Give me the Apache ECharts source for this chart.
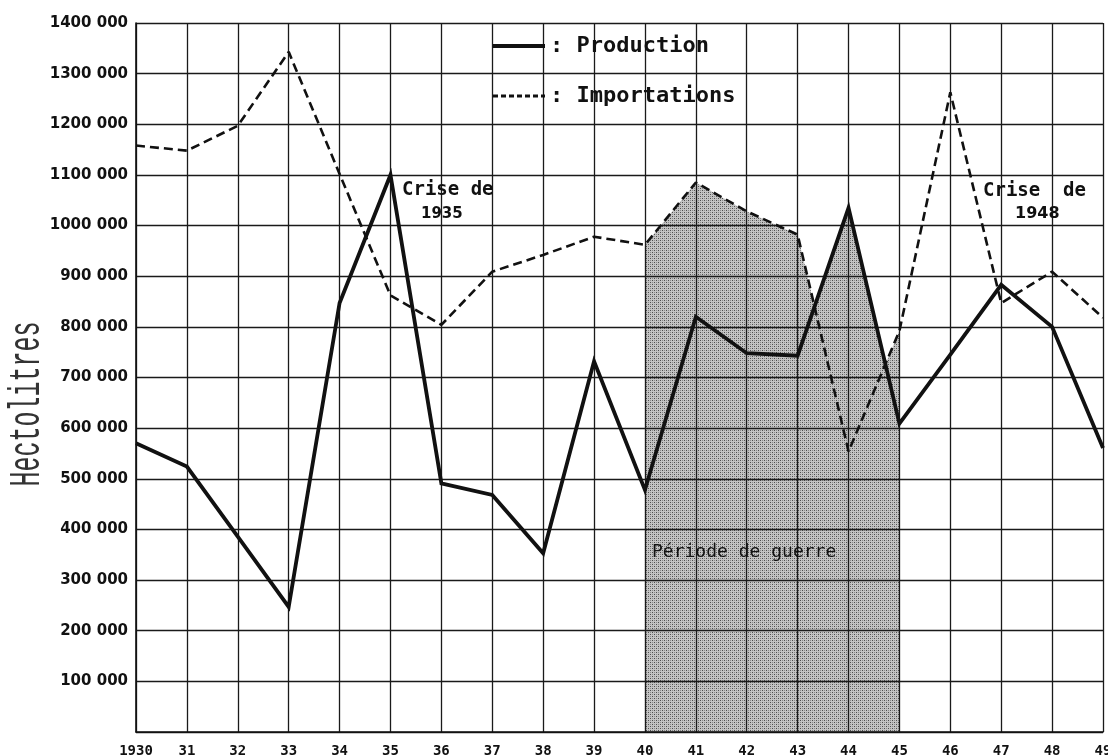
<!DOCTYPE html>
<html>
<head>
<meta charset="utf-8">
<script src="https://cdn.jsdelivr.net/npm/echarts@6/dist/echarts.min.js"></script>
<style>
html,body{margin:0;padding:0;background:#fff;}
#chart{width:1108px;height:756px;}
</style>
</head>
<body>
<div id="chart"></div>
<script>
// ---- data ----
var years = [1930,1931,1932,1933,1934,1935,1936,1937,1938,1939,1940,1941,1942,1943,1944,1945,1946,1947,1948,1949];
var xLabels = ['1930','31','32','33','34','35','36','37','38','39','40','41','42','43','44','45','46','47','48','49'];
var production = [570000,524000,386000,247000,847000,1100000,491000,468000,353000,732000,478000,820000,748000,743000,1035000,609000,745000,883000,800000,561000];
var importations = [1158000,1148000,1197000,1343000,1102000,862000,804000,909000,942000,978000,962000,1085000,1028000,982000,554000,792000,1263000,847000,909000,818000];
var yTicks = [0,100000,200000,300000,400000,500000,600000,700000,800000,900000,1000000,1100000,1200000,1300000,1400000];
var yLabels = ['','100 000','200 000','300 000','400 000','500 000','600 000','700 000','800 000','900 000','1000 000','1100 000','1200 000','1300 000','1400 000'];
var warStart = 1940, warEnd = 1945;

// ---- halftone shading pattern ----
var pat = document.createElement('canvas');
pat.width = 4; pat.height = 4;
var pc = pat.getContext('2d');
pc.fillStyle = '#c4c4c4'; pc.fillRect(0,0,4,4);
pc.fillStyle = '#4e4e4e';
pc.fillRect(0,0,1,1); pc.fillRect(2,2,1,1);
pc.fillStyle = '#8a8a8a';
pc.fillRect(2,0,1,1); pc.fillRect(0,2,1,1);

function warOnly(arr){
  return arr.map(function(v,i){ return (years[i]>=warStart && years[i]<=warEnd) ? v : '-'; });
}

var chart = echarts.init(document.getElementById('chart'));
var monoFont = '"DejaVu Sans Mono", monospace';
var option = {
  animation: false,
  backgroundColor: '#fff',
  grid: { left: 136, right: 5, top: 23, bottom: 24, show: false, containLabel: false, outerBoundsMode: 'none' },
  legend: {
    data: [
      { name: 'Production', lineStyle: { width: 4, color: '#111', type: 'solid' } },
      { name: 'Importations', lineStyle: { width: 3, color: '#111', type: [5,3] } }
    ],
    orient: 'vertical',
    left: 491, top: 34, padding: 0,
    itemWidth: 52, itemHeight: 12, itemGap: 26,
    itemStyle: { opacity: 0 },
    formatter: function(n){ return ': ' + n; },
    textStyle: { fontFamily: monoFont, fontSize: 22, fontWeight: 'bold', color: '#111', lineHeight: 24 },
    selectedMode: false
  },
  xAxis: {
    type: 'category', data: xLabels, boundaryGap: false, z: 2,
    axisLine: { show: true, lineStyle: { color: '#111', width: 1.6 } },
    axisTick: { show: false },
    axisLabel: { interval: 0, margin: 12, color: '#111', fontFamily: monoFont, fontSize: 14, fontWeight: 'bold' },
    splitLine: { show: true, interval: 0, lineStyle: { color: '#1a1a1a', width: 1.3 } }
  },
  yAxis: {
    type: 'value', min: 0, max: 1400000, interval: 100000, z: 2,
    axisLine: { show: true, lineStyle: { color: '#111', width: 1.6 } },
    axisTick: { show: false },
    axisLabel: {
      margin: 8, color: '#111', fontFamily: '"DejaVu Sans", sans-serif', fontSize: 15, fontWeight: 'bold',
      padding: [0,0,8,0],
      formatter: function(v){ var i = yTicks.indexOf(v); return i >= 0 ? yLabels[i] : ''; }
    },
    splitLine: { show: true, lineStyle: { color: '#1a1a1a', width: 1.3 } }
  },
  series: [
    { name: 'war-imp', type: 'line', data: warOnly(importations), z: 1, silent: true,
      symbol: 'none', lineStyle: { width: 0 }, areaStyle: { color: { image: pat, repeat: 'repeat' }, opacity: 1 } },
    { name: 'war-prod', type: 'line', data: warOnly(production), z: 1, silent: true,
      symbol: 'none', lineStyle: { width: 0 }, areaStyle: { color: { image: pat, repeat: 'repeat' }, opacity: 1 } },
    { name: 'Production', type: 'line', data: production, z: 4, symbol: 'none',
      itemStyle: { color: '#111' },
      lineStyle: { color: '#111', width: 3.8, join: 'miter' } },
    { name: 'Importations', type: 'line', data: importations, z: 4, symbol: 'none',
      itemStyle: { color: '#111' },
      lineStyle: { color: '#111', width: 2.6, type: [9,5] } }
  ],
  graphic: [
    { type: 'text', x: 27, y: 404, rotation: Math.PI/2, scaleY: 1.8, z: 10,
      style: { text: 'Hectolitres', font: '25px "Liberation Mono", monospace', fill: '#333', textAlign: 'center', textVerticalAlign: 'middle' } },
    { type: 'text', left: 402, top: 181, z: 10,
      style: { text: 'Crise de', font: 'bold 19px "DejaVu Sans Mono", monospace', fill: '#111' } },
    { type: 'text', left: 421, top: 207, z: 10,
      style: { text: '1935', font: 'bold 15px "DejaVu Sans", sans-serif', fill: '#111' } },
    { type: 'text', left: 983, top: 182, z: 10,
      style: { text: 'Crise  de', font: 'bold 19px "DejaVu Sans Mono", monospace', fill: '#111' } },
    { type: 'text', left: 1015, top: 206, z: 10,
      style: { text: '1948', font: 'bold 16px "DejaVu Sans", sans-serif', fill: '#111' } },
    { type: 'text', left: 652, top: 543, z: 10,
      style: { text: 'Période de guerre', font: '18px "DejaVu Sans Mono", monospace', fill: '#111' } }
  ]
};
chart.setOption(option);
</script>
</body>
</html>
